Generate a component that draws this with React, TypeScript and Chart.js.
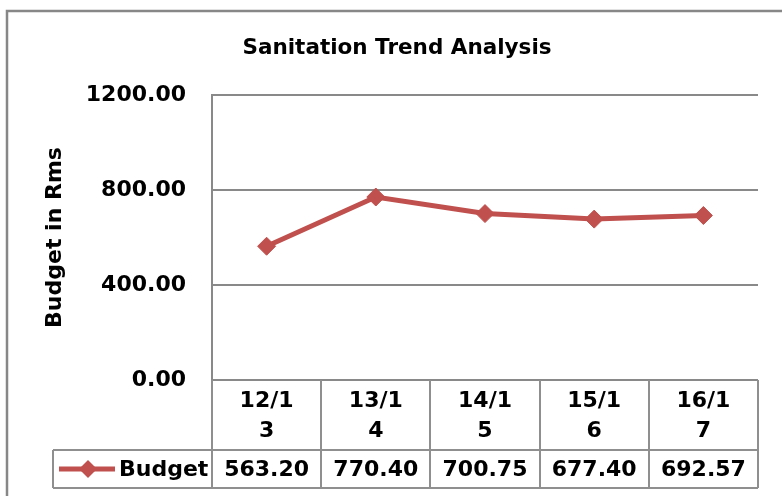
import React, { useEffect, useRef } from "react";
import { Chart, registerables } from "chart.js";

Chart.register(...registerables);

// ---- data ----
const chartTitle = "Sanitation Trend Analysis";
const yAxisTitle = "Budget in Rms";
const seriesName = "Budget";
const categories = ["12/13", "13/14", "14/15", "15/16", "16/17"];
const budget = [563.2, 770.4, 700.75, 677.4, 692.57];
const yMin = 0;
const yMax = 1200;
const yStep = 400;

// ---- style ----
const RED = "#C0504D";
const GRID = "#898989";
const TABLE_LINE = "#8f8f8f";
const FONT = "'DejaVu Sans', sans-serif";

function wrapLabel(s: string, maxChars: number): string[] {
  const out: string[] = [];
  for (let i = 0; i < s.length; i += maxChars) out.push(s.slice(i, i + maxChars));
  return out;
}

const tablePlugin = {
  id: "dataTable",
  afterDraw(chart: any) {
    const ctx = chart.ctx as CanvasRenderingContext2D;
    const area = chart.chartArea;
    const n = categories.length;
    const colW = (area.right - area.left) / n;
    const top = area.bottom;
    const mid = top + 70;
    const bot = top + 108;
    const legendLeft = 53;

    ctx.save();
    // outer chart border
    ctx.strokeStyle = "#878787";
    ctx.lineWidth = 2.5;
    ctx.beginPath();
    ctx.moveTo(7, chart.height + 2);
    ctx.lineTo(7, 11);
    ctx.lineTo(chart.width + 2, 11);
    ctx.stroke();

    // table grid
    ctx.strokeStyle = TABLE_LINE;
    ctx.lineWidth = 2;
    ctx.beginPath();
    ctx.moveTo(legendLeft, mid);
    ctx.lineTo(area.right, mid);
    ctx.moveTo(legendLeft, bot);
    ctx.lineTo(area.right, bot);
    ctx.moveTo(legendLeft, mid);
    ctx.lineTo(legendLeft, bot);
    for (let i = 0; i <= n; i++) {
      const x = Math.round(area.left + i * colW);
      ctx.moveTo(x, top);
      ctx.lineTo(x, bot);
    }
    ctx.stroke();

    // header text
    ctx.fillStyle = "#000";
    ctx.font = `bold 22px ${FONT}`;
    ctx.textAlign = "center";
    ctx.textBaseline = "middle";
    const xs = chart.scales.x;
    categories.forEach((c, i) => {
      const cx = xs.getPixelForValue(i);
      const lines = wrapLabel(c, 4);
      const lh = 30;
      const startY = (top + mid) / 2 + 1 - ((lines.length - 1) * lh) / 2;
      lines.forEach((ln, j) => ctx.fillText(ln, cx, startY + j * lh));
      ctx.fillText(budget[i].toFixed(2), cx, (mid + bot) / 2 + 1);
    });

    // legend key
    const ly = (mid + bot) / 2;
    ctx.strokeStyle = RED;
    ctx.lineWidth = 5;
    ctx.beginPath();
    ctx.moveTo(59, ly);
    ctx.lineTo(115, ly);
    ctx.stroke();
    ctx.fillStyle = RED;
    ctx.beginPath();
    ctx.moveTo(88 - 9, ly);
    ctx.lineTo(88, ly - 9);
    ctx.lineTo(88 + 9, ly);
    ctx.lineTo(88, ly + 9);
    ctx.closePath();
    ctx.fill();
    ctx.fillStyle = "#000";
    ctx.textAlign = "left";
    ctx.fillText(seriesName, 119, ly + 1);
    ctx.restore();
  },
};

export default function App() {
  const ref = useRef<HTMLCanvasElement | null>(null);
  useEffect(() => {
    if (!ref.current) return;
    const chart = new Chart(ref.current, {
      type: "line",
      data: {
        labels: categories,
        datasets: [
          {
            label: seriesName,
            data: budget,
            borderColor: RED,
            backgroundColor: RED,
            borderWidth: 5,
            pointStyle: "rectRot",
            pointRadius: 9,
            pointBorderWidth: 1,
            pointBackgroundColor: RED,
            pointBorderColor: RED,
            tension: 0,
          },
        ],
      },
      options: {
        responsive: false,
        animation: false,
        devicePixelRatio: 1,
        layout: { padding: { top: 10, left: 36, right: 24, bottom: 116 } },
        plugins: {
          legend: { display: false },
          tooltip: { enabled: false },
          title: {
            display: true,
            text: chartTitle,
            color: "#000",
            font: { family: FONT, size: 21.5, weight: "bold", lineHeight: 1.2 },
            padding: { top: 26, bottom: 33.2 },
          },
        },
        scales: {
          x: {
            display: false,
            offset: true,
          },
          y: {
            min: yMin,
            max: yMax,
            afterFit: (scale: any) => {
              scale.width = 176;
            },
            ticks: {
              stepSize: yStep,
              padding: 26,
              color: "#000",
              font: { family: FONT, size: 22, weight: "bold" },
              callback: (v: any) => Number(v).toFixed(2),
            },
            grid: { color: GRID, lineWidth: 2, drawTicks: false },
            border: { display: true, color: GRID, width: 2 },
            title: {
              display: true,
              text: yAxisTitle,
              color: "#000",
              font: { family: FONT, size: 22, weight: "bold", lineHeight: 1.2 },
              padding: { top: 6, bottom: 0 },
            },
          },
        },
      },
      plugins: [tablePlugin],
    });
    return () => chart.destroy();
  }, []);
  return (
    <div style={{ position: "fixed", left: 0, top: 0, width: 782, height: 496, background: "#fff" }}>
      <canvas ref={ref} width={782} height={496} style={{ display: "block" }} />
    </div>
  );
}
